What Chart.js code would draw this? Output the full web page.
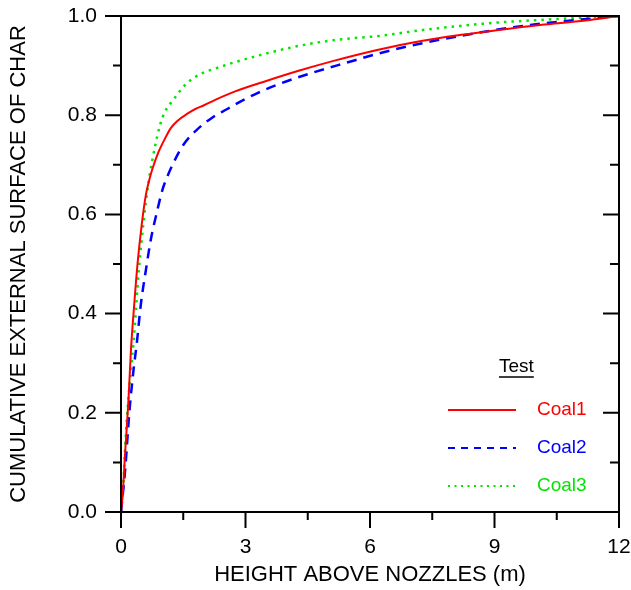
<!DOCTYPE html>
<html>
<head>
<meta charset="utf-8">
<script src="https://cdn.jsdelivr.net/npm/chart.js@4.4.1/dist/chart.umd.min.js"></script>
<style>
  html, body { margin: 0; padding: 0; background: #fff; }
  #wrap { width: 631px; height: 590px; }
</style>
</head>
<body>
<div id="wrap"><canvas id="chart" width="631" height="590"></canvas></div>
<script>
// --- data ---
const coal1X = [0, 0.04, 0.1, 0.18, 0.24, 0.32, 0.4, 0.5, 0.6, 0.68, 0.75, 0.9, 1.06, 1.2, 1.38, 1.6, 1.78, 2.0, 2.27, 2.75, 3.5, 4.3, 5.1, 6.2, 7.2, 8.2, 9.1, 10.1, 11.2, 12];
const coal1Y = [0, 0.034, 0.12, 0.226, 0.327, 0.42, 0.502, 0.58, 0.64, 0.669, 0.69, 0.725, 0.753, 0.774, 0.79, 0.803, 0.812, 0.82, 0.831, 0.848, 0.869, 0.89, 0.909, 0.932, 0.949, 0.962, 0.972, 0.982, 0.991, 1.0];

const coal2X = [0, 0.1, 0.2, 0.3, 0.38, 0.48, 0.6, 0.72, 0.86, 1.0, 1.1, 1.3, 1.5, 1.82, 2.18, 2.55, 2.91, 3.3, 3.75, 4.55, 5.44, 6.28, 7.2, 8.53, 9.86, 10.74, 12];
const coal2Y = [0, 0.085, 0.2, 0.285, 0.34, 0.42, 0.488, 0.55, 0.603, 0.65, 0.673, 0.71, 0.74, 0.77, 0.794, 0.812, 0.829, 0.845, 0.861, 0.884, 0.906, 0.926, 0.944, 0.965, 0.982, 0.99, 1.0];

const coal3X = [0, 0.05, 0.12, 0.2, 0.3, 0.43, 0.55, 0.66, 0.82, 0.94, 1.06, 1.26, 1.58, 1.94, 2.27, 2.71, 3.3, 4.3, 5.2, 6.24, 7.2, 8.17, 9.1, 10.1, 11, 12];
const coal3Y = [0, 0.05, 0.16, 0.25, 0.34, 0.488, 0.59, 0.663, 0.737, 0.78, 0.807, 0.831, 0.864, 0.884, 0.894, 0.906, 0.92, 0.94, 0.952, 0.96, 0.971, 0.98, 0.987, 0.992, 0.996, 1.0];

const seriesNames = ['Coal1', 'Coal2', 'Coal3'];
const legendTitle = 'Test';
const xTitle = 'HEIGHT ABOVE NOZZLES (m)';
const yTitle = 'CUMULATIVE EXTERNAL SURFACE OF CHAR';
const xMajorLabels = [0, 3, 6, 9, 12];
const yMajorLabels = ['0.0', '0.2', '0.4', '0.6', '0.8', '1.0'];

const colors = ['#ff0000', '#0000ff', '#00e600'];
const dashes = [[], [10, 7], [2.5, 5]];
const FONT = "'Liberation Sans', Arial, sans-serif";

const toPoints = (xs, ys) => xs.map((x, i) => ({ x: x, y: ys[i] }));

const isMajorX = v => xMajorLabels.some(m => Math.abs(m - v) < 1e-6);
const isMajorY = v => Math.round(v * 10) % 2 === 0;

// frame + inner/outer tick marks
const frameTicks = {
    id: 'frameTicks',
    afterDraw(chart) {
        const ctx = chart.ctx;
        const a = chart.chartArea;
        const xs = chart.scales.x, ys = chart.scales.y;
        ctx.save();
        ctx.strokeStyle = '#000';
        ctx.lineWidth = 2;
        ctx.strokeRect(a.left, a.top, a.right - a.left, a.bottom - a.top);
        ctx.beginPath();
        xs.ticks.forEach(t => {
            const px = xs.getPixelForValue(t.value);
            const len = isMajorX(t.value) ? 16 : 8;
            ctx.moveTo(px, a.bottom);
            ctx.lineTo(px, a.bottom + len);
        });
        ys.ticks.forEach(t => {
            const py = ys.getPixelForValue(t.value);
            const len = isMajorY(t.value) ? 16 : 8;
            ctx.moveTo(a.left, py);
            ctx.lineTo(a.left - len, py);
            ctx.moveTo(a.right, py);
            ctx.lineTo(a.right - (isMajorY(t.value) ? 16 : 9), py);
        });
        ctx.stroke();
        ctx.restore();
    }
};

// legend box in the lower right
const sideLegend = {
    id: 'sideLegend',
    afterDraw(chart) {
        const ctx = chart.ctx;
        ctx.save();
        ctx.font = '19px ' + FONT;
        ctx.textBaseline = 'middle';
        ctx.fillStyle = '#000';
        ctx.fillText(legendTitle, 499, 367);
        const tw = ctx.measureText(legendTitle).width;
        ctx.strokeStyle = '#000';
        ctx.lineWidth = 1.5;
        ctx.beginPath();
        ctx.moveTo(499, 377);
        ctx.lineTo(499 + tw, 377);
        ctx.stroke();
        const rows = [410, 448, 486];
        seriesNames.forEach((name, i) => {
            ctx.strokeStyle = colors[i];
            ctx.lineWidth = 2;
            ctx.setLineDash(i === 1 ? [7, 6] : i === 2 ? [2, 4.5] : []);
            ctx.beginPath();
            ctx.moveTo(448, rows[i]);
            ctx.lineTo(516, rows[i]);
            ctx.stroke();
            ctx.setLineDash([]);
            ctx.fillStyle = colors[i];
            ctx.fillText(name, 537, rows[i]);
        });
        ctx.restore();
    }
};

const allX = [coal1X, coal2X, coal3X];
const allY = [coal1Y, coal2Y, coal3Y];

new Chart(document.getElementById('chart'), {
    type: 'scatter',
    data: {
        datasets: seriesNames.map((name, i) => ({
            label: name,
            data: toPoints(allX[i], allY[i]),
            showLine: true,
            borderColor: colors[i],
            borderWidth: i === 0 ? 2 : 2.5,
            borderDash: dashes[i],
            pointRadius: 0,
            cubicInterpolationMode: 'monotone',
            fill: false
        }))
    },
    options: {
        responsive: false,
        animation: false,
        devicePixelRatio: 1,
        layout: { padding: { top: 16, right: 12, left: 0, bottom: 0 } },
        plugins: { legend: { display: false }, tooltip: { enabled: false } },
        scales: {
            x: {
                type: 'linear',
                min: 0, max: 12,
                afterFit: s => { s.height = 78; s.paddingLeft = 0; s.paddingRight = 0; },
                grid: { display: false, drawTicks: false },
                border: { display: false },
                ticks: {
                    stepSize: 1.5,
                    autoSkip: false,
                    maxRotation: 0,
                    padding: 23,
                    color: '#000',
                    font: { family: FONT, size: 21 },
                    callback: v => isMajorX(v) ? String(Math.round(v)) : ''
                },
                title: {
                    display: true,
                    text: xTitle,
                    color: '#000',
                    font: { family: FONT, size: 22 },
                    padding: { top: 0, bottom: 2 }
                }
            },
            y: {
                type: 'linear',
                min: 0, max: 1,
                afterFit: s => { s.width = 121; s.paddingTop = 0; s.paddingBottom = 0; },
                grid: { display: false, drawTicks: false },
                border: { display: false },
                ticks: {
                    stepSize: 0.1,
                    autoSkip: false,
                    padding: 24,
                    color: '#000',
                    font: { family: FONT, size: 21 },
                    callback: v => isMajorY(v) ? yMajorLabels[Math.round(v * 5)] : ''
                },
                title: {
                    display: true,
                    text: yTitle,
                    color: '#000',
                    font: { family: FONT, size: 22 },
                    padding: { top: 6, bottom: 0 }
                }
            }
        }
    },
    plugins: [frameTicks, sideLegend]
});
</script>
</body>
</html>
